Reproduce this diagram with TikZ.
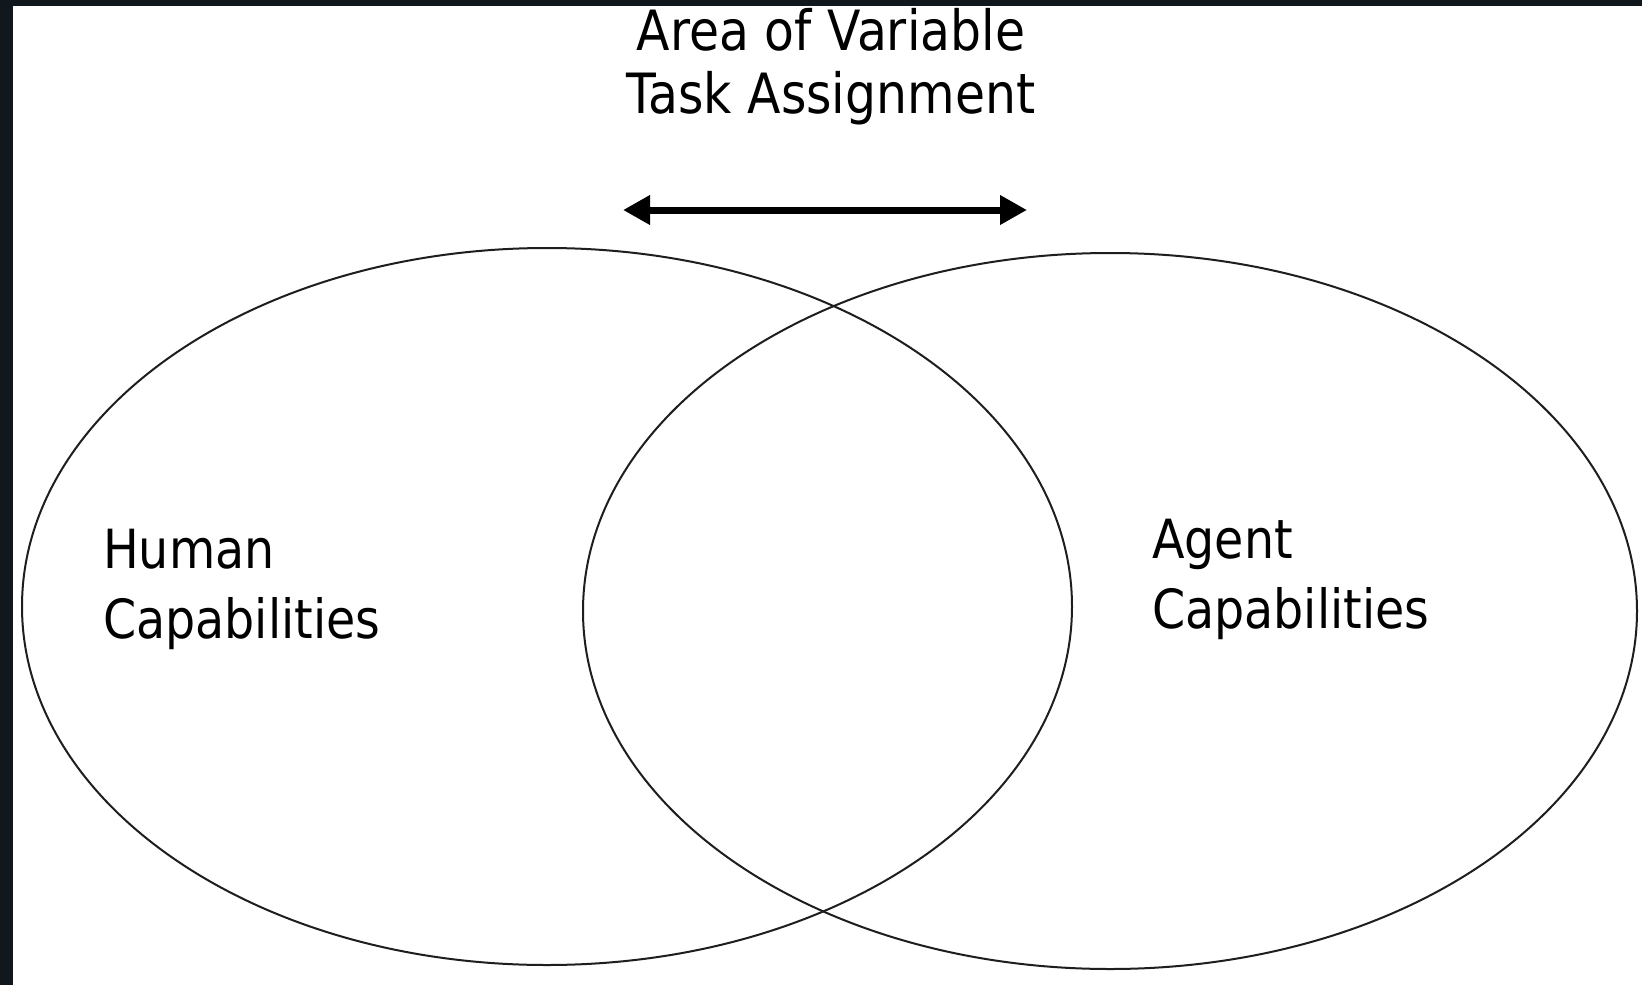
\documentclass[tikz,border=0pt]{standalone}
\usepackage{fontspec}
\setmainfont{DejaVu Sans}[FakeStretch=0.88]
\usetikzlibrary{shapes.geometric,arrows.meta}
\definecolor{framedark}{HTML}{10181E}
\definecolor{inkline}{HTML}{1E1E1E}
\tikzset{
  capset/.style={ellipse, draw=inkline, line width=2pt, inner sep=0pt},
  label/.style={inner sep=0pt, align=left, text=black,
    font=\fontsize{54}{70}\selectfont},
  toplabel/.style={inner sep=0pt, align=center, text=black,
    font=\fontsize{55.5}{63}\selectfont},
  rangearrow/.style={line width=7pt, draw=black,
    {Triangle[length=27pt,width=28pt]}-{Triangle[length=27pt,width=28pt]}}
}
\begin{document}
\begin{tikzpicture}[x=1pt,y=-1pt]
  \useasboundingbox (0,0) rectangle (1642,985);
  \fill[white] (0,0) rectangle (1642,985);
  % dark frame along the left and top edges
  \fill[framedark] (0,0) rectangle (13,985);
  \fill[framedark] (0,0) rectangle (1642,6);

  % the two capability sets
  \node[capset, minimum width=1050pt, minimum height=717pt] (human) at (547,606.5) {};
  \node[capset, minimum width=1054pt, minimum height=716pt] (agent) at (1110,611) {};

  % labels (base anchor sits on the last line)
  \node[label, anchor=base west] (humanlbl) at (103,638) {Human\\Capabilities};
  \node[label, anchor=base west] (agentlbl) at (1152,628) {Agent\\Capabilities};
  \node[toplabel, anchor=base] (arealbl) at (831,113) {Area of Variable\\Task Assignment};

  % double-headed range arrow
  \coordinate (rangeL) at (623,210);
  \coordinate (rangeR) at (1027,210);
  \draw[rangearrow] (rangeL) -- (rangeR);
\end{tikzpicture}
\end{document}
